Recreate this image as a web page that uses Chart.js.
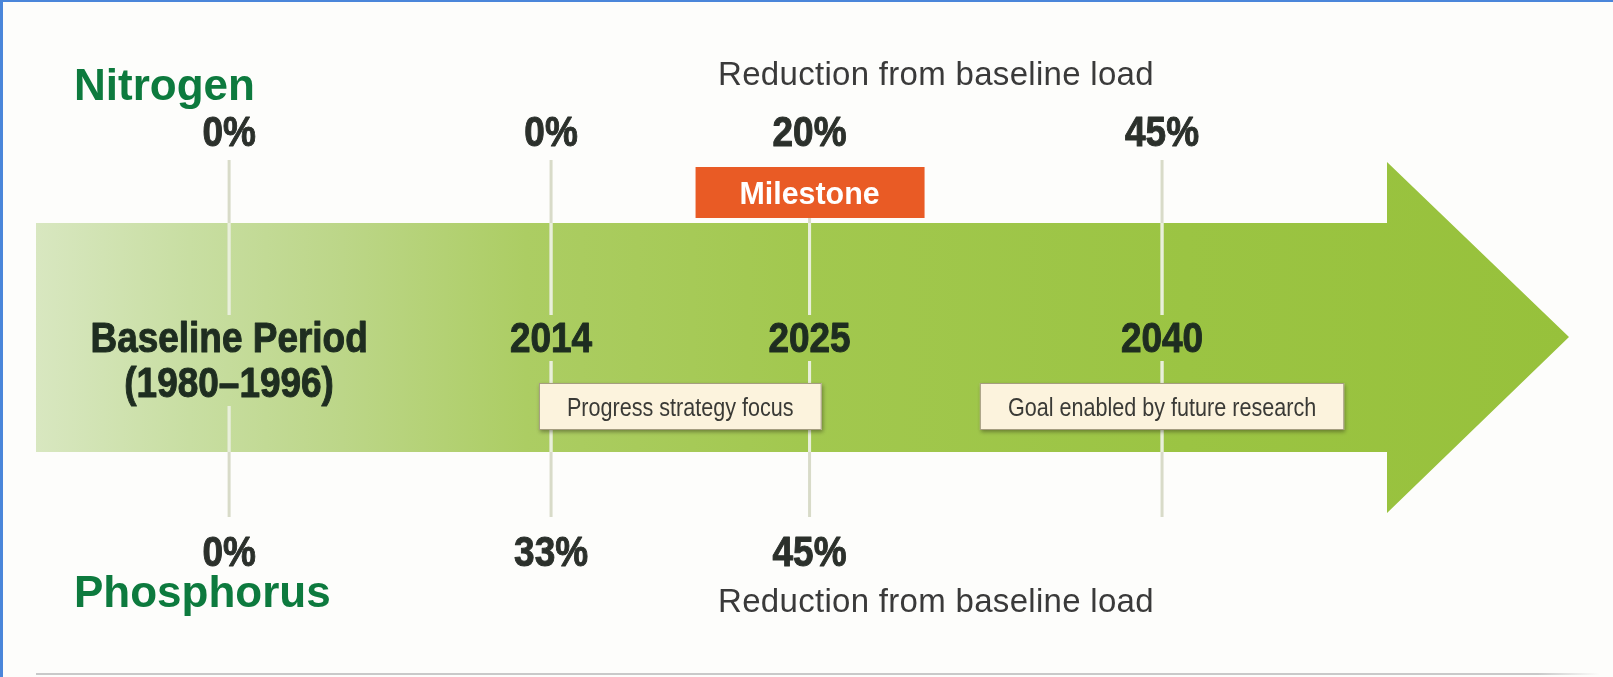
<!DOCTYPE html>
<html>
<head>
<meta charset="utf-8">
<script src="https://cdn.jsdelivr.net/npm/chart.js@4.4.1/dist/chart.umd.min.js"></script>
<style>
  html, body { margin: 0; padding: 0; background: #fdfdfb; overflow: hidden; }
  canvas { display: block; }
</style>
</head>
<body>
<canvas id="timeline" width="1613" height="677"></canvas>
<script>
// timeline data
const categories = [["Baseline Period", "(1980–1996)"], ["2014"], ["2025"], ["2040"]];
const years = [2000.3, 2014, 2025, 2040]; // baseline sits at a schematic spot left of 2014
const nitrogen = [0, 0, 20, 45];
const phosphorus = [0, 33, 45, null];
const milestoneYear = 2025;
const noteTexts = ["Progress strategy focus", "Goal enabled by future research"];
const noteCenters = [2019.5, 2040];
const rowLabels = ["Nitrogen", "Phosphorus"];
const subtitle = "Reduction from baseline load";

const FONT = '"Liberation Sans", Arial, sans-serif';

// condensed look: squeeze the glyphs horizontally, optional stroke to thicken
function squeezed(ctx, str, x, y, sx, heavy) {
  ctx.save();
  ctx.translate(x, y);
  ctx.scale(sx, 1);
  if (heavy) {
    ctx.lineWidth = heavy;
    ctx.lineJoin = 'round';
    ctx.strokeStyle = ctx.fillStyle;
    ctx.strokeText(str, 0, 0);
  }
  ctx.fillText(str, 0, 0);
  ctx.restore();
}

function arrowPath(ctx) {
  ctx.beginPath();
  ctx.moveTo(36, 223);
  ctx.lineTo(1387, 223);
  ctx.lineTo(1387, 162);
  ctx.lineTo(1569, 337);
  ctx.lineTo(1387, 513);
  ctx.lineTo(1387, 452);
  ctx.lineTo(36, 452);
  ctx.closePath();
}

const timelinePlugin = {
  id: 'timeline',
  beforeDatasetsDraw(chart) {
    const ctx = chart.ctx;
    const xs = chart.scales.x;
    const ys = chart.scales.y;
    const W = chart.width, H = chart.height;

    ctx.save();
    // background + frame
    ctx.fillStyle = '#fdfdfb';
    ctx.fillRect(0, 0, W, H);
    ctx.fillStyle = '#4a86da';
    ctx.fillRect(0, 0, W, 2);
    ctx.fillRect(0, 0, 3, H);
    const lg = ctx.createLinearGradient(36, 0, 1600, 0);
    lg.addColorStop(0, '#c9c9c9');
    lg.addColorStop(0.96, '#c9c9c9');
    lg.addColorStop(1, 'rgba(201,201,201,0)');
    ctx.fillStyle = lg;
    ctx.fillRect(36, 673, 1564, 2);

    // big arrow
    const g = ctx.createLinearGradient(36, 0, 1569, 0);
    g.addColorStop(0, '#d8e7c0');
    g.addColorStop(0.1, '#c8dea2');
    g.addColorStop(0.2, '#bcd688');
    g.addColorStop(0.32, '#accd63');
    g.addColorStop(0.5, '#a2c84f');
    g.addColorStop(0.75, '#9bc443');
    g.addColorStop(1, '#97c13b');
    arrowPath(ctx);
    ctx.fillStyle = g;
    ctx.fill();

    // vertical tick lines, with gaps for the year labels
    const segs = years.map((yr, i) => {
      const x = xs.getPixelForValue(yr);
      const top = yr === milestoneYear ? 218 : 160;
      const gapBottom = categories[i].length > 1 ? 406 : 361;
      return [[x, top, 315], [x, gapBottom, 517]];
    });
    const drawLines = (color) => {
      ctx.strokeStyle = color;
      ctx.lineWidth = 3;
      segs.forEach(s => s.forEach(([x, a, b]) => {
        ctx.beginPath();
        ctx.moveTo(x, a);
        ctx.lineTo(x, b);
        ctx.stroke();
      }));
    };
    drawLines('#d8dbc8');
    ctx.save();
    arrowPath(ctx);
    ctx.clip();
    drawLines('#e9f0da');
    ctx.restore();

    // year labels
    ctx.fillStyle = '#1e2d20';
    ctx.textAlign = 'center';
    ctx.textBaseline = 'alphabetic';
    ctx.font = 'bold 42px ' + FONT;
    const yRow = ys.getPixelForValue(0) - 4;
    categories.forEach((lines, i) => {
      const x = xs.getPixelForValue(years[i]);
      lines.forEach((t, k) => squeezed(ctx, t, x, yRow + k * 45, 0.88, 1));
    });

    // milestone tag
    const mx = xs.getPixelForValue(milestoneYear);
    ctx.fillStyle = '#e95b25';
    ctx.fillRect(mx - 114, 167, 229, 51);
    ctx.fillStyle = '#ffffff';
    ctx.font = 'bold 32px ' + FONT;
    squeezed(ctx, 'Milestone', mx, 204, 0.95);

    // note boxes
    ctx.font = '26px ' + FONT;
    noteTexts.forEach((t, i) => {
      const cx = xs.getPixelForValue(noteCenters[i]);
      const w = ctx.measureText(t).width * 0.83 + 56;
      ctx.save();
      ctx.shadowColor = 'rgba(40,40,20,0.45)';
      ctx.shadowBlur = 4;
      ctx.shadowOffsetX = 1;
      ctx.shadowOffsetY = 2;
      ctx.fillStyle = '#fcf3dd';
      ctx.fillRect(cx - w / 2, 383, w, 47);
      ctx.restore();
      ctx.strokeStyle = '#a59d80';
      ctx.lineWidth = 1;
      ctx.strokeRect(cx - w / 2 + 0.5, 383.5, w - 1, 46);
      ctx.fillStyle = '#3a3a36';
      squeezed(ctx, t, cx, 416, 0.83);
    });

    // row titles and subtitles
    ctx.textAlign = 'left';
    ctx.fillStyle = '#0d7a3e';
    ctx.font = 'bold 44px ' + FONT;
    ctx.fillText(rowLabels[0], 74, 100);
    ctx.fillText(rowLabels[1], 74, 607);
    ctx.textAlign = 'center';
    ctx.fillStyle = '#3a3a3a';
    ctx.font = '33px ' + FONT;
    ctx.letterSpacing = '0.3px';
    ctx.fillText(subtitle, 936, 85);
    ctx.fillText(subtitle, 936, 612);
    ctx.letterSpacing = '0px';
    ctx.restore();
  },
  afterDatasetsDraw(chart) {
    const ctx = chart.ctx;
    ctx.save();
    ctx.fillStyle = '#2b302b';
    ctx.textAlign = 'center';
    ctx.textBaseline = 'alphabetic';
    ctx.font = 'bold 42px ' + FONT;
    chart.data.datasets.forEach((ds, di) => {
      const meta = chart.getDatasetMeta(di);
      meta.data.forEach((pt, i) => {
        squeezed(ctx, ds.data[i].v + '%', pt.x, pt.y, 0.88, 1);
      });
    });
    ctx.restore();
  }
};

const nitrogenPts = years.map((x, i) => ({ x: x, y: 1, v: nitrogen[i] }));
const phosphorusPts = years
  .map((x, i) => ({ x: x, y: -1, v: phosphorus[i] }))
  .filter(p => p.v !== null);

new Chart(document.getElementById('timeline').getContext('2d'), {
  type: 'scatter',
  data: {
    datasets: [
      { label: rowLabels[0], data: nitrogenPts, pointRadius: 0 },
      { label: rowLabels[1], data: phosphorusPts, pointRadius: 0 }
    ]
  },
  options: {
    responsive: false,
    animation: false,
    events: [],
    layout: { padding: 0 },
    scales: {
      x: { type: 'linear', min: 1990.55, max: 2059.19, display: false },
      y: { type: 'linear', min: -1.5286, max: 1.6952, display: false }
    },
    plugins: { legend: { display: false }, tooltip: { enabled: false } }
  },
  plugins: [timelinePlugin]
});
</script>
</body>
</html>
